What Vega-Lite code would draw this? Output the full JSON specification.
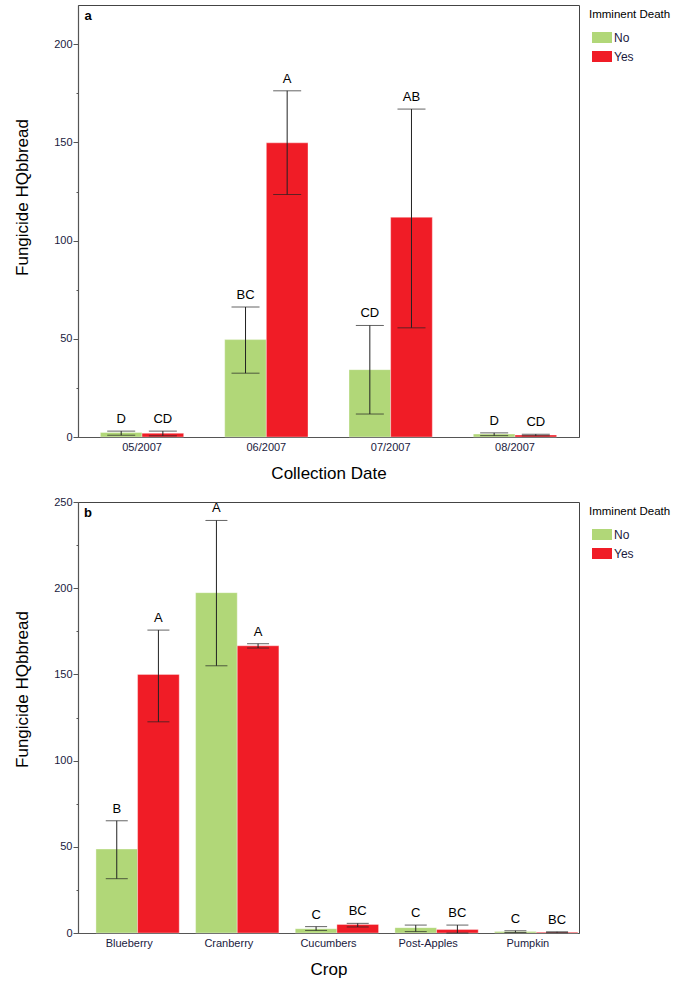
{
  "$schema": "https://vega.github.io/schema/vega-lite/v6.json",
  "padding": {"left": 13, "top": 4, "right": 0, "bottom": 0},
  "background": "white",
  "config": {
    "font": "Liberation Sans",
    "view": {"stroke": "#444", "strokeWidth": 1},
    "axis": {
      "labelFont": "Liberation Sans", "labelFontSize": 11, "labelColor": "#1a1a40",
      "titleFont": "Liberation Sans", "titleFontSize": 17, "titleFontWeight": "normal", "titleColor": "#000",
      "domainColor": "#555", "domainWidth": 1.2, "tickColor": "#555", "grid": false
    },
    "legend": {
      "titleFont": "Liberation Sans", "titleFontSize": 11.5, "titleFontWeight": "normal", "titleColor": "#000",
      "labelFont": "Liberation Sans", "labelFontSize": 12, "labelColor": "#1a1a40",
      "orient": "right", "offset": 6, "padding": 4, "titlePadding": 7, "rowPadding": 3,
      "symbolType": "M-1,-0.55L1,-0.55L1,0.55L-1,0.55Z", "symbolSize": 400, "symbolStrokeWidth": 0,
      "symbolOffset": 3, "labelOffset": 2
    }
  },
  "datasets": {
    "top": [
      {"date": "05/2007", "death": "No", "mean": 2.3, "lo": 0.9, "hi": 3.0, "letter": "D"},
      {"date": "05/2007", "death": "Yes", "mean": 1.9, "lo": 0.6, "hi": 3.0, "letter": "CD"},
      {"date": "06/2007", "death": "No", "mean": 49.6, "lo": 32.5, "hi": 66.2, "letter": "BC"},
      {"date": "06/2007", "death": "Yes", "mean": 149.8, "lo": 123.5, "hi": 176.3, "letter": "A"},
      {"date": "07/2007", "death": "No", "mean": 34.3, "lo": 11.7, "hi": 56.8, "letter": "CD"},
      {"date": "07/2007", "death": "Yes", "mean": 111.9, "lo": 55.6, "hi": 167.0, "letter": "AB"},
      {"date": "08/2007", "death": "No", "mean": 1.5, "lo": 0.7, "hi": 2.1, "letter": "D"},
      {"date": "08/2007", "death": "Yes", "mean": 1.0, "lo": 0.6, "hi": 1.4, "letter": "CD"}
    ],
    "bottom": [
      {"crop": "Blueberry", "death": "No", "mean": 48.7, "lo": 31.5, "hi": 65.1, "letter": "B"},
      {"crop": "Blueberry", "death": "Yes", "mean": 150.0, "lo": 122.5, "hi": 175.7, "letter": "A"},
      {"crop": "Cranberry", "death": "No", "mean": 197.4, "lo": 155.0, "hi": 239.3, "letter": "A"},
      {"crop": "Cranberry", "death": "Yes", "mean": 166.6, "lo": 165.3, "hi": 167.8, "letter": "A"},
      {"crop": "Cucumbers", "death": "No", "mean": 2.5, "lo": 1.5, "hi": 3.7, "letter": "C"},
      {"crop": "Cucumbers", "death": "Yes", "mean": 5.0, "lo": 3.5, "hi": 5.6, "letter": "BC"},
      {"crop": "Post-Apples", "death": "No", "mean": 3.1, "lo": 0.8, "hi": 4.6, "letter": "C"},
      {"crop": "Post-Apples", "death": "Yes", "mean": 2.0, "lo": 0.0, "hi": 4.6, "letter": "BC"},
      {"crop": "Pumpkin", "death": "No", "mean": 0.8, "lo": 0.3, "hi": 1.3, "letter": "C"},
      {"crop": "Pumpkin", "death": "Yes", "mean": 0.5, "lo": 0.2, "hi": 0.7, "letter": "BC"}
    ],
    "panelA": [{"panel": "a"}],
    "panelB": [{"panel": "b"}]
  },
  "spacing": 13,
  "resolve": {"scale": {"color": "independent", "y": "independent", "x": "independent"}, "legend": {"color": "independent"}},
  "vconcat": [
    {
      "width": 501,
      "height": 432,
      "layer": [
        {
          "data": {"name": "top"},
          "encoding": {
            "x": {"field": "date", "type": "nominal", "sort": null,
                  "scale": {"paddingInner": 0.33, "paddingOuter": 0.18},
                  "axis": {"title": "Collection Date", "labelAngle": 0, "ticks": false, "labelPadding": 4, "titlePadding": 13}},
            "xOffset": {"field": "death", "type": "nominal", "scale": {"paddingInner": 0, "paddingOuter": 0}}
          },
          "layer": [
            {
              "mark": {"type": "bar", "stroke": "white", "strokeOpacity": 0.35, "strokeWidth": 1},
              "encoding": {
                "y": {"field": "mean", "type": "quantitative", "scale": {"domain": [0, 220], "nice": false},
                      "axis": {"title": "Fungicide HQbbread", "titleY": 192, "titleAlign": "center", "titlePadding": 22,
                               "values": [0, 25, 50, 75, 100, 125, 150, 175, 200],
                               "labelExpr": "datum.value % 50 === 0 ? datum.label : ''",
                               "tickSize": {"condition": {"test": "datum.value % 50 === 0", "value": 5}, "value": 2},
                               "labelPadding": 1}},
                "color": {"field": "death", "type": "nominal",
                          "scale": {"domain": ["No", "Yes"], "range": ["#b1d778", "#f01c26"]},
                          "legend": {"title": "Imminent Death"}}
              }
            },
            {
              "mark": {"type": "rule", "color": "#222", "strokeWidth": 1},
              "encoding": {"y": {"field": "lo", "type": "quantitative"}, "y2": {"field": "hi"}}
            },
            {
              "mark": {"type": "tick", "orient": "horizontal", "size": 28, "thickness": 1, "color": "#222"},
              "encoding": {"y": {"field": "lo", "type": "quantitative"}}
            },
            {
              "mark": {"type": "tick", "orient": "horizontal", "size": 28, "thickness": 1, "color": "#222"},
              "encoding": {"y": {"field": "hi", "type": "quantitative"}}
            },
            {
              "mark": {"type": "text", "baseline": "alphabetic", "dy": -8, "fontSize": 13, "color": "#000", "font": "Liberation Sans"},
              "encoding": {"y": {"field": "hi", "type": "quantitative"}, "text": {"field": "letter"}}
            }
          ]
        },
        {
          "data": {"name": "panelA"},
          "mark": {"type": "text", "align": "left", "baseline": "alphabetic", "dx": -16, "dy": 15, "fontSize": 13, "fontWeight": "bold", "color": "#000", "font": "Liberation Sans"},
          "encoding": {
            "x": {"datum": "05/2007", "type": "nominal", "bandPosition": 0},
            "y": {"datum": 220, "type": "quantitative"},
            "text": {"field": "panel"}
          }
        }
      ]
    },
    {
      "width": 501,
      "height": 431,
      "layer": [
        {
          "data": {"name": "bottom"},
          "encoding": {
            "x": {"field": "crop", "type": "nominal", "sort": null,
                  "scale": {"paddingInner": 0.333, "paddingOuter": 0.18},
                  "axis": {"title": "Crop", "labelAngle": 0, "ticks": false, "labelPadding": 4, "titlePadding": 13}},
            "xOffset": {"field": "death", "type": "nominal", "scale": {"paddingInner": 0, "paddingOuter": 0}}
          },
          "layer": [
            {
              "mark": {"type": "bar", "stroke": "white", "strokeOpacity": 0.35, "strokeWidth": 1},
              "encoding": {
                "y": {"field": "mean", "type": "quantitative", "scale": {"domain": [0, 250], "nice": false},
                      "axis": {"title": "Fungicide HQbbread", "titleY": 187, "titleAlign": "center", "titlePadding": 22,
                               "values": [0, 25, 50, 75, 100, 125, 150, 175, 200, 225, 250],
                               "labelExpr": "datum.value % 50 === 0 ? datum.label : ''",
                               "tickSize": {"condition": {"test": "datum.value % 50 === 0", "value": 5}, "value": 2},
                               "labelPadding": 1}},
                "color": {"field": "death", "type": "nominal",
                          "scale": {"domain": ["No", "Yes"], "range": ["#b1d778", "#f01c26"]},
                          "legend": {"title": "Imminent Death"}}
              }
            },
            {
              "mark": {"type": "rule", "color": "#222", "strokeWidth": 1},
              "encoding": {"y": {"field": "lo", "type": "quantitative"}, "y2": {"field": "hi"}}
            },
            {
              "mark": {"type": "tick", "orient": "horizontal", "size": 22, "thickness": 1, "color": "#222"},
              "encoding": {"y": {"field": "lo", "type": "quantitative"}}
            },
            {
              "mark": {"type": "tick", "orient": "horizontal", "size": 22, "thickness": 1, "color": "#222"},
              "encoding": {"y": {"field": "hi", "type": "quantitative"}}
            },
            {
              "mark": {"type": "text", "baseline": "alphabetic", "dy": -8, "fontSize": 13, "color": "#000", "font": "Liberation Sans"},
              "encoding": {"y": {"field": "hi", "type": "quantitative"}, "text": {"field": "letter"}}
            }
          ]
        },
        {
          "data": {"name": "panelB"},
          "mark": {"type": "text", "align": "left", "baseline": "alphabetic", "dx": -12, "dy": 15, "fontSize": 13, "fontWeight": "bold", "color": "#000", "font": "Liberation Sans"},
          "encoding": {
            "x": {"datum": "Blueberry", "type": "nominal", "bandPosition": 0},
            "y": {"datum": 250, "type": "quantitative"},
            "text": {"field": "panel"}
          }
        }
      ]
    }
  ]
}
